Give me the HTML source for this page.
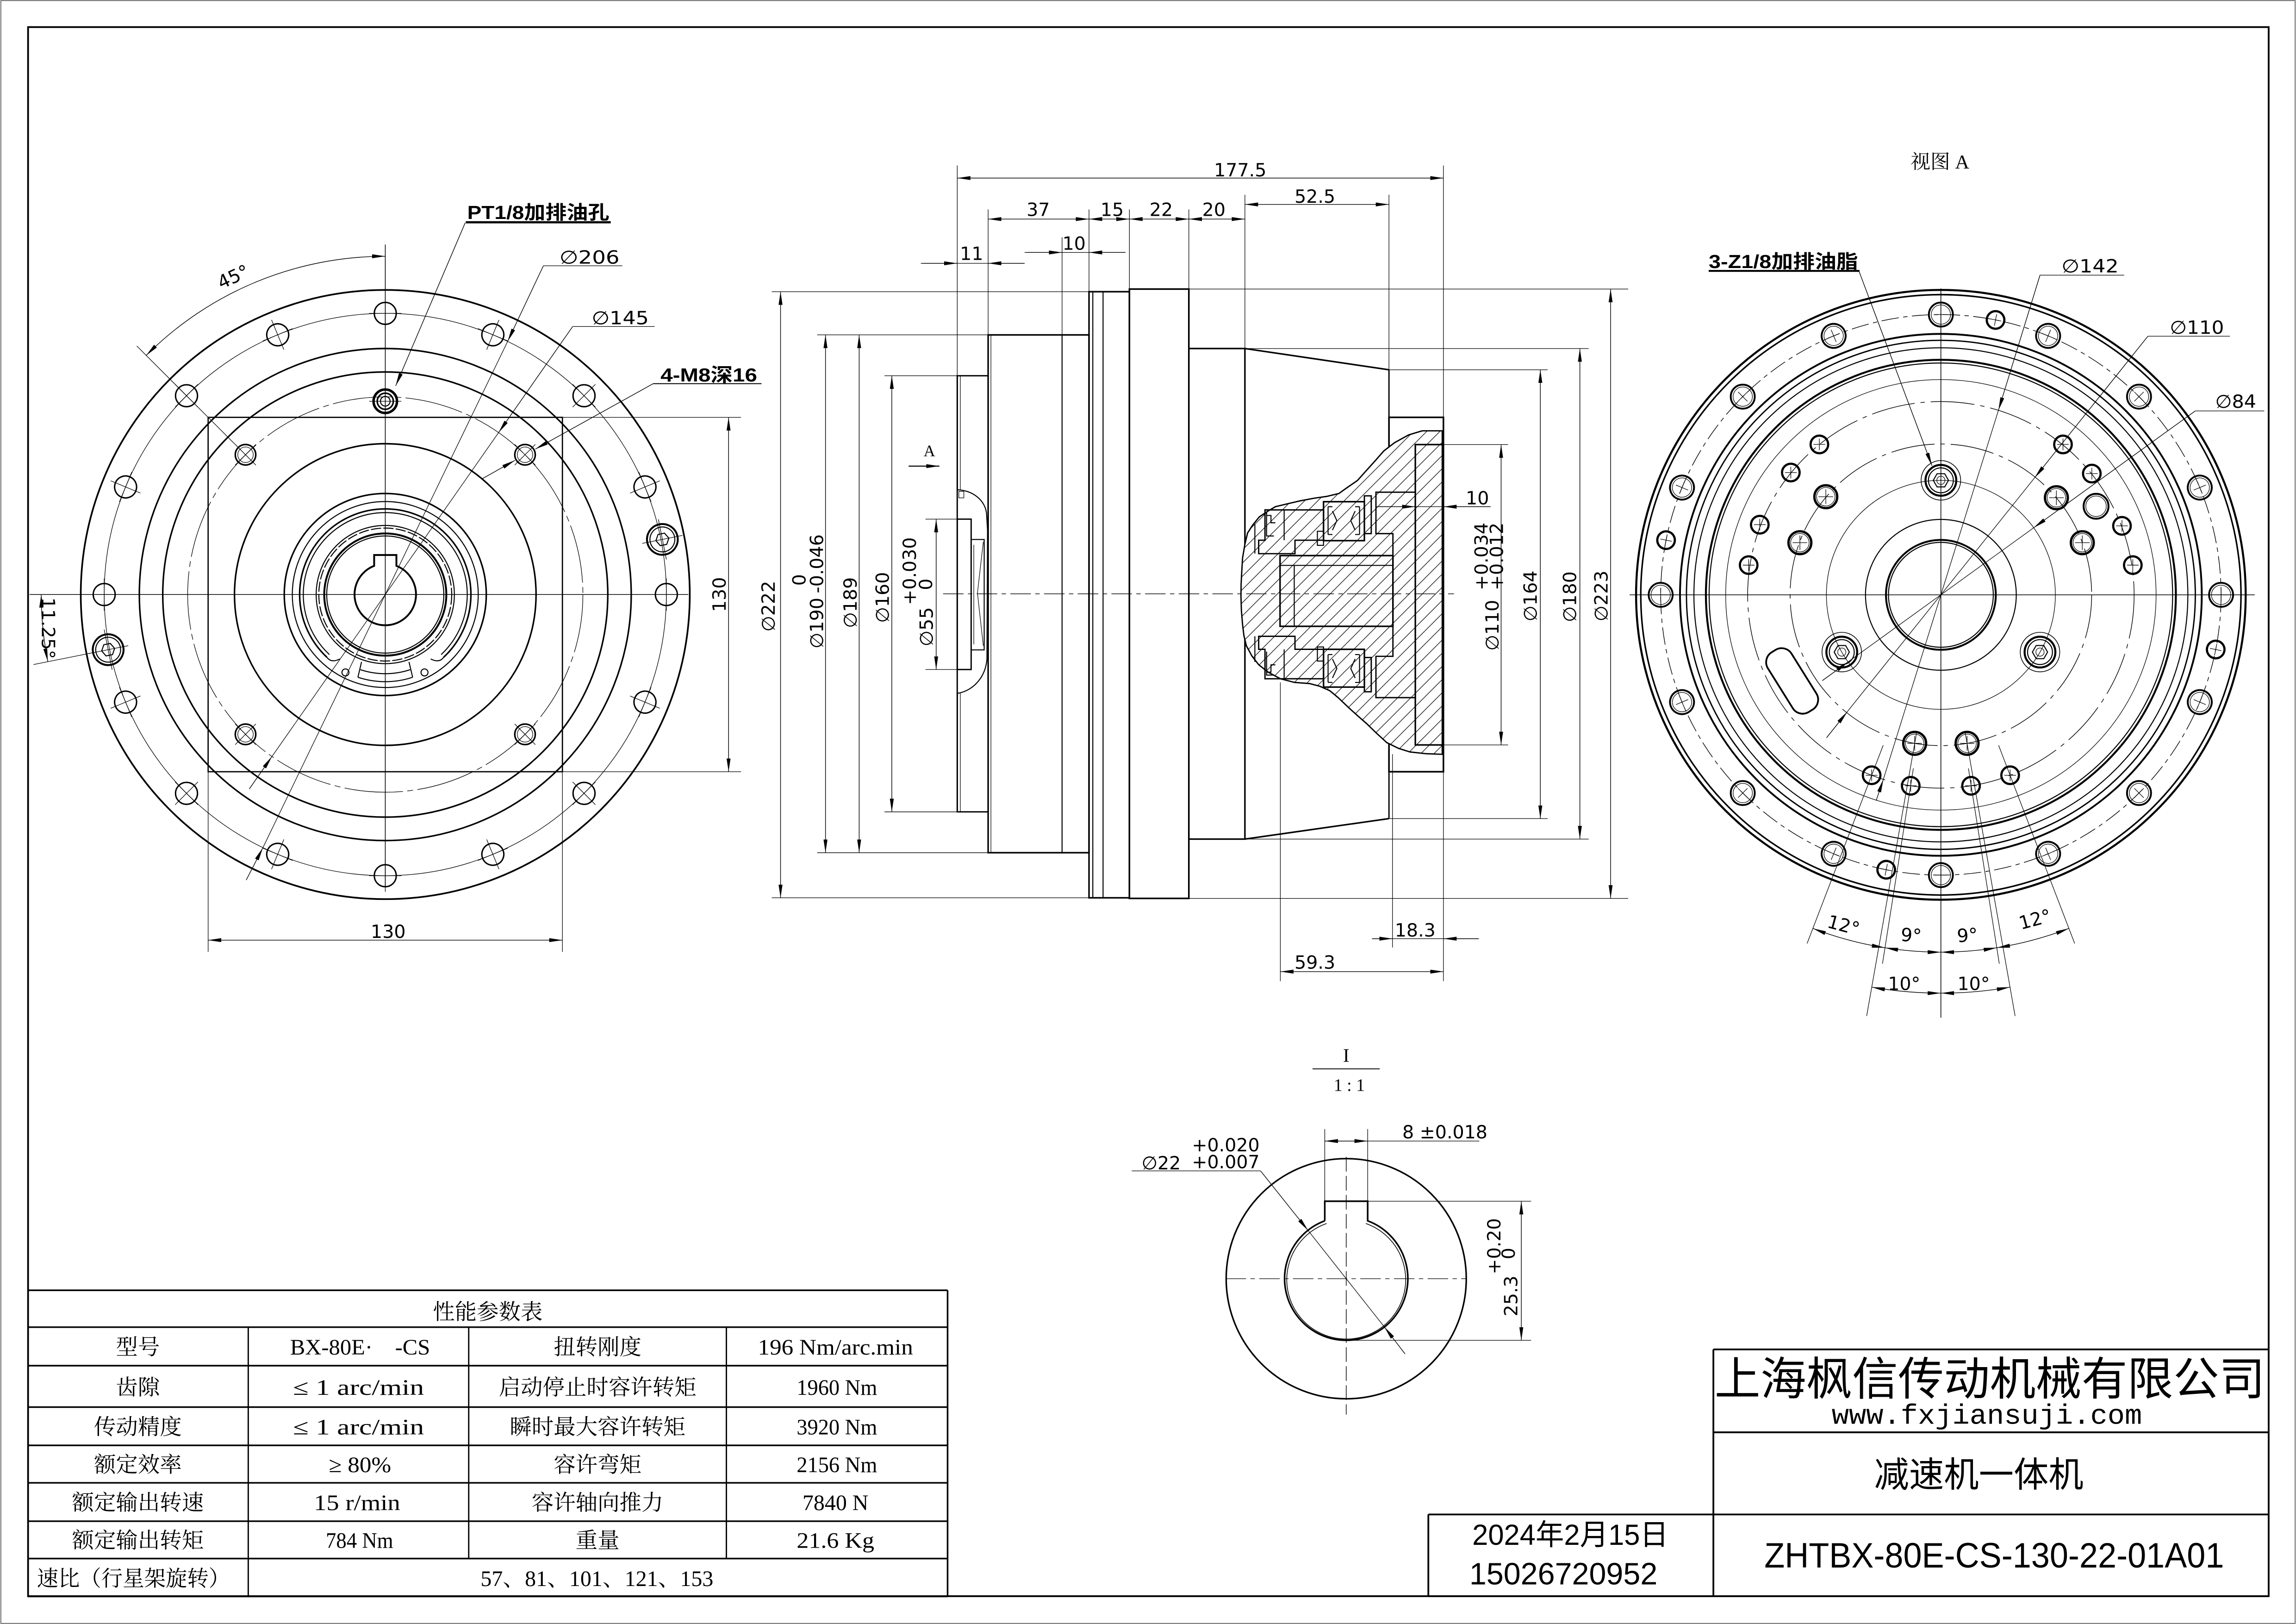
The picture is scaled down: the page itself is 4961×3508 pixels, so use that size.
<!DOCTYPE html>
<html><head><meta charset="utf-8">
<style>
html,body{margin:0;padding:0;background:#fff;}
svg{display:block;}
</style></head><body>
<svg width="4961" height="3508" viewBox="0 0 1568 1109" xmlns="http://www.w3.org/2000/svg">
<style>
.k{stroke:#000;stroke-width:1.05;fill:none}
.m{stroke:#000;stroke-width:0.7;fill:none}
.t{stroke:#000;stroke-width:0.4;fill:none}
.a{stroke:#000;stroke-width:0.45;fill:none;marker-end:url(#ar)}
.aa{stroke:#000;stroke-width:0.45;fill:none;marker-start:url(#ar);marker-end:url(#ar)}
.cl{stroke:#000;stroke-width:0.4;stroke-dasharray:14 3 3 3;fill:none}
.dsh{stroke:#000;stroke-width:0.45;stroke-dasharray:12 3 3 3;fill:none}
.w{fill:#fff}
text{fill:#000;font-family:"DejaVu Sans","Liberation Sans","Noto Sans CJK SC",sans-serif;}
.dt{font-size:12.5px}
.lb{font-family:"Liberation Sans","Noto Sans CJK SC",sans-serif;font-weight:bold;font-size:13px}
.sf{font-family:"Liberation Serif","Noto Serif CJK SC",serif;}
.tb{font-family:"Liberation Serif","Noto Serif CJK SC",serif;font-size:15px}
.hs{font-family:"Liberation Sans","Noto Sans CJK SC",sans-serif;}
</style>
<defs>
<marker id="ar" viewBox="0 0 10 3" refX="10" refY="1.5" markerWidth="9" markerHeight="2.8" markerUnits="userSpaceOnUse" orient="auto-start-reverse"><path d="M0,0 L10,1.5 L0,3 z" fill="#000"/></marker>
<pattern id="hp" patternUnits="userSpaceOnUse" width="9" height="9"><path d="M-1,1 L1,-1 M0,9 L9,0 M8,10 L10,8" stroke="#000" stroke-width="0.4"/></pattern>
<g id="hL"><circle r="7.5" class="k" style="stroke-width:0.95"/><path d="M-11,0H11M0,-11V11" class="t"/></g>
<g id="m8"><circle r="7" class="k" style="stroke-width:1.05"/><circle r="5.3" class="t"/><path d="M-10,0H10M0,-10V10" class="t"/></g>
<g id="sockL"><circle r="10.5" class="k" style="stroke-width:1.3"/><circle r="8.5" class="m"/><path d="M4.5,0L2.25,3.9L-2.25,3.9L-4.5,0L-2.25,-3.9L2.25,-3.9Z" class="m"/><path d="M-14,0H14M0,-14V14" class="t"/></g>
<g id="hR"><circle r="8.2" class="k" style="stroke-width:1.25"/><circle r="6.6" class="t"/><path d="M-4.5,0H4.5M0,-4.5V4.5" class="t"/></g>
<g id="sR"><circle r="6" class="k" style="stroke-width:1.5"/><path d="M-4,0H4M0,-4V4" class="t"/></g>
<g id="lR"><circle r="7.8" class="k" style="stroke-width:1.6"/><circle r="6.3" class="t"/><path d="M-5,0H5M0,-5V5" class="t"/></g>
<g id="kR"><circle r="13.5" class="t" style="stroke-width:0.5"/><circle r="10.5" class="k" style="stroke-width:1.4"/><circle r="8.5" class="m"/><path d="M5.2,0L2.6,4.5L-2.6,4.5L-5.2,0L-2.6,-4.5L2.6,-4.5Z" class="m"/><circle r="2.8" class="t"/></g>
</defs>

<rect x="0" y="0" width="1568" height="1109" fill="#fff"/>
<rect x="0.4" y="0.4" width="1567.2" height="1108.2" fill="none" stroke="#666" stroke-width="0.6"/>
<rect x="19" y="18.5" width="1530.5" height="1071.5" fill="none" stroke="#000" stroke-width="1.2"/>

<!-- ================= LEFT VIEW ================= -->
<g>
<circle cx="263" cy="406" r="208" class="k" style="stroke-width:1.15"/>
<circle cx="263" cy="406" r="192" class="t"/>
<circle cx="263" cy="406" r="168" class="k"/>
<circle cx="263" cy="406" r="152" class="k"/>
<circle cx="263" cy="406" r="135" class="t" style="stroke-dasharray:40 3 4 3"/>
<circle cx="263" cy="406" r="103" class="k"/>
<circle cx="263" cy="406" r="69" class="k"/>
<circle cx="263" cy="406" r="63.5" class="m"/>
<path d="M223.1,448.8 A58.5,58.5 0 1 1 302.9,448.8" class="k"/>
<path d="M224.8,447 A56,56 0 1 1 301.2,447" class="m"/>
<path d="M223.1,448.8 Q226,453 232,450 M302.9,448.8 Q300,453 294,450" class="m"/>
<circle cx="263" cy="406" r="47.2" class="m"/>
<circle cx="263" cy="406" r="45.4" class="m" style="stroke-dasharray:7 1.5"/>
<circle cx="263" cy="406" r="41.7" class="k" style="stroke-width:1.3"/>
<circle cx="263" cy="406" r="40" class="m"/>
<path d="M246.8,452 L244.3,462.5 M279.2,452 L281.7,462.5" class="m"/>
<path d="M244.3,462.5 A59.5,59.5 0 0 0 281.7,462.5" class="m"/>
<path d="M246,457.3 A54,54 0 0 0 280,457.3" class="m"/>
<circle cx="235.8" cy="459.2" r="2.4" class="m"/>
<circle cx="289.8" cy="459.2" r="2.4" class="m"/>
<path d="M255.4,386.4 L255.4,379 L270.6,379 L270.6,386.4 A21,21 0 1 1 255.4,386.4 Z" class="k" style="stroke-width:1.25"/>
<rect x="142" y="285" width="242" height="242" class="k" style="stroke-width:0.85"/>
<line x1="20" y1="406" x2="470" y2="406" class="t" style="stroke-width:0.5"/>
<line x1="263" y1="167" x2="263" y2="605" class="t" style="stroke-width:0.5"/>
<g transform="translate(263,406)">
<use href="#hL" transform="rotate(0) translate(192,0)"/>
<use href="#hL" transform="rotate(-22.5) translate(192,0)"/>
<use href="#hL" transform="rotate(-45) translate(192,0)"/>
<use href="#hL" transform="rotate(-67.5) translate(192,0)"/>
<use href="#hL" transform="rotate(-90) translate(192,0)"/>
<use href="#hL" transform="rotate(-112.5) translate(192,0)"/>
<use href="#hL" transform="rotate(-135) translate(192,0)"/>
<use href="#hL" transform="rotate(-157.5) translate(192,0)"/>
<use href="#hL" transform="rotate(-180) translate(192,0)"/>
<use href="#hL" transform="rotate(-202.5) translate(192,0)"/>
<use href="#hL" transform="rotate(-225) translate(192,0)"/>
<use href="#hL" transform="rotate(-247.5) translate(192,0)"/>
<use href="#hL" transform="rotate(-270) translate(192,0)"/>
<use href="#hL" transform="rotate(-292.5) translate(192,0)"/>
<use href="#hL" transform="rotate(-315) translate(192,0)"/>
<use href="#hL" transform="rotate(-337.5) translate(192,0)"/>
<use href="#sockL" transform="rotate(-11.25) translate(193,0)"/>
<use href="#sockL" transform="rotate(-191.25) translate(193,0)"/>
<use href="#m8" transform="rotate(-45) translate(135,0)"/>
<use href="#m8" transform="rotate(-135) translate(135,0)"/>
<use href="#m8" transform="rotate(-225) translate(135,0)"/>
<use href="#m8" transform="rotate(-315) translate(135,0)"/>
<g transform="translate(0,-132)"><circle r="8" class="k" style="stroke-width:1.7"/><circle r="5.5" class="k"/><circle r="3.3" class="m"/><path d="M-11,0H11" class="t"/></g>
</g>
<!-- dims left -->
<path d="M99.7,242.7 A231,231 0 0 1 263,175" class="aa"/>
<line x1="93.3" y1="236.3" x2="160.5" y2="303.5" class="t"/>
<text class="dt" transform="translate(161,193) rotate(-25)" text-anchor="middle">45°</text>
<path d="M28,406 A235,235 0 0 0 32.5,451.8" class="aa"/>
<line x1="22.7" y1="453.8" x2="61.9" y2="446" class="t"/>
<text class="dt" transform="translate(28.5,429) rotate(90)" text-anchor="middle">11.25°</text>
<text class="lb" x="319" y="149.5" textLength="97" lengthAdjust="spacingAndGlyphs">PT1/8加排油孔</text>
<line x1="318" y1="151.8" x2="417" y2="151.8" stroke="#000" stroke-width="1.5"/>
<line x1="317.6" y1="152.1" x2="270.1" y2="263.5" class="a"/>
<text class="dt" x="382" y="180" textLength="41" lengthAdjust="spacingAndGlyphs">∅206</text>
<line x1="371" y1="181.5" x2="425" y2="181.5" class="t"/>
<line x1="371" y1="181.5" x2="346.6" y2="233.1" class="a"/>
<line x1="346.6" y1="233.1" x2="179.4" y2="578.9" class="t"/>
<line x1="168" y1="601" x2="179.4" y2="578.9" class="a"/>
<text class="dt" x="404" y="221.5" textLength="39" lengthAdjust="spacingAndGlyphs">∅145</text>
<line x1="391" y1="223" x2="447" y2="223" class="t"/>
<line x1="391" y1="223" x2="340.4" y2="295.4" class="a"/>
<line x1="340.4" y1="295.4" x2="185.6" y2="516.6" class="t"/>
<line x1="170.1" y1="538.8" x2="185.6" y2="516.6" class="a"/>
<text class="lb" x="451" y="260.5" textLength="66" lengthAdjust="spacingAndGlyphs">4-M8深16</text>
<line x1="446" y1="262" x2="520" y2="262" class="t" style="stroke-width:0.6"/>
<line x1="446" y1="262" x2="365.5" y2="306.7" class="a"/>
<line x1="329.3" y1="326.9" x2="351.5" y2="314.4" class="a"/>
<line x1="384" y1="285" x2="506" y2="285" class="t"/>
<line x1="384" y1="527" x2="506" y2="527" class="t"/>
<line x1="497.5" y1="285" x2="497.5" y2="527" class="aa"/>
<text class="dt" transform="translate(495.5,406) rotate(-90)" text-anchor="middle">130</text>
<line x1="142" y1="527" x2="142" y2="650" class="t"/>
<line x1="384" y1="527" x2="384" y2="650" class="t"/>
<line x1="142" y1="642" x2="384" y2="642" class="aa"/>
<text class="dt" x="265" y="640.5" text-anchor="middle">130</text>
</g>

<!-- ================= MIDDLE VIEW ================= -->
<g>
<rect x="653.7" y="256.6" width="21.1" height="297.8" class="k" style="stroke-width:0.9"/>
<line x1="655.8" y1="256.6" x2="655.8" y2="554.4" class="t"/>
<rect x="674.8" y="228.7" width="68.9" height="353.6" class="k"/>
<line x1="676.7" y1="228.7" x2="676.7" y2="582.3" class="t"/>
<line x1="725.3" y1="228.7" x2="725.3" y2="582.3" class="m"/>
<rect x="743.7" y="199.2" width="27.6" height="413.9" class="k"/>
<line x1="746.3" y1="199.2" x2="746.3" y2="613.1" class="m"/>
<line x1="753.3" y1="199.2" x2="753.3" y2="613.1" class="m"/>
<rect x="771.3" y="197.4" width="40.6" height="416.1" class="k" style="stroke-width:1.1"/>
<rect x="811.9" y="238" width="38.3" height="335" class="k"/>
<path d="M850.2,238 L948.6,252.5 M850.2,573 L948.6,559" class="k"/>
<line x1="948.6" y1="252.5" x2="948.6" y2="559" class="k" style="stroke-width:0.9"/>
<rect x="948.6" y="285" width="37.2" height="242" class="k" style="stroke-width:1.1"/>
<!-- left boss section -->
<path d="M653.7,334.5 C663,334.5 673.5,341 673.8,352 L674.4,362 L674,450 C673,463 664,472 653.7,473.5 Z" fill="#fff"/>
<path d="M653.7,334.5 C663,334.5 673.5,341 673.8,352 L674.4,362 L674,450 C673,463 664,472 653.7,473.5 Z" fill="url(#hp)" class="m"/>
<rect x="653.7" y="354.5" width="9.5" height="102.7" fill="#fff" class="k" style="stroke-width:0.9"/>
<rect x="663.2" y="368.4" width="8.9" height="75.4" fill="#fff" class="m"/>
<path d="M671.5,370 L667.5,405 L671.5,441 M665,372 V440" class="t"/>
<rect x="654.8" y="335.6" width="3.4" height="4.4" class="t"/>
<line x1="653.7" y1="256.6" x2="653.7" y2="554.4" class="k" style="stroke-width:0.9"/>
<!-- right section -->
<path d="M985,294.2 L971.3,294.2 L962,297 L952.4,302.3 L945,308 L938.7,315.2 L933,321.5 L927.1,328.1 L920,333 L914.4,337 L906,339 L897.6,340.2 L888,342 L878.6,344.2 L871,346 L866,349 L860,353 L855.4,358.7 L852,364 L850.2,371.6 L848.6,381 L848,391 L847.6,399 L847.5,407.1 L847.8,417 L848.6,426.5 L849.5,434 L851.2,441 L855,448 L859.6,453.9 L866,459 L874.4,463.5 L884,466 L894.4,466.8 L901,468.5 L908.1,471.6 L914,476.5 L920.7,482.9 L927,488.6 L933.4,494.2 L940,500.6 L947.1,507.1 L955,511 L962.9,513.5 L974,514.7 L985,515.1 Z" fill="#fff"/>
<path d="M985,294.2 L971.3,294.2 L962,297 L952.4,302.3 L945,308 L938.7,315.2 L933,321.5 L927.1,328.1 L920,333 L914.4,337 L906,339 L897.6,340.2 L888,342 L878.6,344.2 L871,346 L866,349 L860,353 L855.4,358.7 L852,364 L850.2,371.6 L848.6,381 L848,391 L847.6,399 L847.5,407.1 L847.8,417 L848.6,426.5 L849.5,434 L851.2,441 L855,448 L859.6,453.9 L866,459 L874.4,463.5 L884,466 L894.4,466.8 L901,468.5 L908.1,471.6 L914,476.5 L920.7,482.9 L927,488.6 L933.4,494.2 L940,500.6 L947.1,507.1 L955,511 L962.9,513.5 L974,514.7 L985,515.1 Z" fill="url(#hp)" stroke="#000" stroke-width="0.9" stroke-linejoin="round"/>
<rect x="966.6" y="303.6" width="18.6" height="205.1" fill="#fff" class="k"/>
<path d="M939.7,336.1 H966.6 V476.4 H939.7 V448.2 H951.3 V364.4 H939.7 Z" fill="#fff" class="k" style="stroke-width:0.9"/>
<rect x="874.2" y="379.4" width="77.1" height="48.3" fill="#fff" class="k"/>
<line x1="874.2" y1="386.1" x2="951.3" y2="386.1" class="m"/>
<line x1="883.9" y1="386.1" x2="883.9" y2="427.7" class="m"/>
<rect x="903.9" y="342.6" width="27.9" height="26.6" fill="#fff" class="k"/>
<rect x="903.9" y="443.4" width="27.9" height="25.8" fill="#fff" class="k"/>
<path d="M907,346 V365 M907,346 H910 M907,365 H910 M910,349 L913,355.5 L910,362 M928.5,346 V365 M928.5,346 H925.5 M928.5,365 H925.5 M925.5,349 L922.5,355.5 L925.5,362" class="m"/>
<path d="M907,447 V466 M907,447 H910 M907,466 H910 M910,450 L913,456.5 L910,463 M928.5,447 V466 M928.5,447 H925.5 M928.5,466 H925.5 M925.5,450 L922.5,456.5 L925.5,463" class="m"/>
<rect x="931.8" y="338.6" width="4.7" height="25.8" fill="#fff" class="k" style="stroke-width:0.9"/>
<rect x="931.8" y="449" width="4.7" height="23.4" fill="#fff" class="k" style="stroke-width:0.9"/>
<rect x="899.7" y="362.8" width="4.2" height="9.6" fill="#fff" class="m"/>
<rect x="899.7" y="441.8" width="4.2" height="9.6" fill="#fff" class="m"/>
<path d="M863.9,348.2 H903.9 V368.9 H884.4 V378.1 H859.6 V368.9 H863.9 Z" fill="#fff" class="k" style="stroke-width:0.9"/>
<path d="M859.6,434.5 H884.4 V443.4 H903.9 V463.5 H863.9 V443.4 H859.6 Z" fill="#fff" class="k" style="stroke-width:0.9"/>
<path d="M865,350 V366 H870 M865,352 H868 V357 H871 M865,445 V461 H870 M865,459 H868 V454 H871 M877,348.2 V368.9 M877,443.4 V463.5 M857,358 V378 M857,434.5 V452" class="m"/>
<line x1="644" y1="405.5" x2="993" y2="405.5" class="cl"/>
<!-- ext lines -->
<path d="M653.7,113 V256.6 M674.8,143 V228.7 M725.3,162 V228.7 M743.7,143 V199.2 M771.3,143 V197.4 M811.9,143 V197.4 M850.2,133 V238 M948.6,133 V252.5 M985.8,113 V670" class="t"/>
<path d="M527,199.2 H743.7 M527,613.1 H743.7 M558,228.7 H674.8 M558,582.3 H674.8 M604,256.6 H653.7 M604,554.4 H653.7 M632,354.5 H653.7 M632,457.2 H653.7" class="t"/>
<path d="M985.8,303.6 H1030 M985.8,508.7 H1030 M948.6,252.5 H1057 M948.6,559 H1057 M850.2,238 H1085 M850.2,573 H1085 M811.9,197.4 H1112 M811.9,613.5 H1112" class="t"/>
<path d="M874.4,466 V670 M951,515 V647" class="t"/>
<!-- dim lines -->
<line x1="533" y1="199.2" x2="533" y2="613.1" class="aa"/>
<line x1="563.7" y1="228.7" x2="563.7" y2="582.3" class="aa"/>
<line x1="586.7" y1="228.7" x2="586.7" y2="582.3" class="aa"/>
<line x1="609" y1="256.6" x2="609" y2="554.4" class="aa"/>
<line x1="639.3" y1="354.5" x2="639.3" y2="457.2" class="aa"/>
<line x1="1025.2" y1="303.6" x2="1025.2" y2="508.7" class="aa"/>
<line x1="1052" y1="252.5" x2="1052" y2="559" class="aa"/>
<line x1="1079" y1="238" x2="1079" y2="573" class="aa"/>
<line x1="1100" y1="197.4" x2="1100" y2="613.5" class="aa"/>
<line x1="653.7" y1="121.6" x2="985.8" y2="121.6" class="aa"/>
<line x1="674.8" y1="149.6" x2="743.7" y2="149.6" class="aa"/>
<line x1="743.7" y1="149.6" x2="771.3" y2="149.6" class="aa"/>
<line x1="771.3" y1="149.6" x2="811.9" y2="149.6" class="aa"/>
<line x1="811.9" y1="149.6" x2="850.2" y2="149.6" class="aa"/>
<line x1="850.2" y1="139.6" x2="948.6" y2="139.6" class="aa"/>
<line x1="874.4" y1="663.5" x2="985.8" y2="663.5" class="aa"/>
<line x1="628.8" y1="179.8" x2="699.7" y2="179.8" class="t"/>
<line x1="630" y1="179.8" x2="653.7" y2="179.8" class="a"/>
<line x1="699.7" y1="179.8" x2="674.8" y2="179.8" class="a"/>
<line x1="699.7" y1="172.4" x2="768.6" y2="172.4" class="t"/>
<line x1="701" y1="172.4" x2="725.3" y2="172.4" class="a"/>
<line x1="768.6" y1="172.4" x2="743.7" y2="172.4" class="a"/>
<line x1="940" y1="346" x2="1018" y2="346" class="t"/>
<line x1="942" y1="346" x2="966.6" y2="346" class="a"/>
<line x1="1018" y1="346" x2="985.8" y2="346" class="a"/>
<line x1="937" y1="641" x2="1010" y2="641" class="t"/>
<line x1="937" y1="641" x2="951" y2="641" class="a"/>
<line x1="1010" y1="641" x2="985.8" y2="641" class="a"/>
<line x1="620.5" y1="318.3" x2="641.5" y2="318.3" class="a" style="stroke-width:0.7"/>
<text class="sf" x="634.7" y="311.5" text-anchor="middle" font-size="11">A</text>
<!-- dim texts -->
<text class="dt" x="847" y="120.5" text-anchor="middle">177.5</text>
<text class="dt" x="709" y="147.5" text-anchor="middle">37</text>
<text class="dt" x="759.5" y="147.5" text-anchor="middle">15</text>
<text class="dt" x="793" y="147.5" text-anchor="middle">22</text>
<text class="dt" x="829" y="147.5" text-anchor="middle">20</text>
<text class="dt" x="898" y="138.5" text-anchor="middle">52.5</text>
<text class="dt" x="663.5" y="177.5" text-anchor="middle">11</text>
<text class="dt" x="733.5" y="170.5" text-anchor="middle">10</text>
<text class="dt" x="1009" y="344.5" text-anchor="middle">10</text>
<text class="dt" x="966.5" y="639.5" text-anchor="middle">18.3</text>
<text class="dt" x="898" y="661.5" text-anchor="middle">59.3</text>
<text class="dt" transform="translate(529,414) rotate(-90)" text-anchor="middle">∅222</text>
<text class="dt" transform="translate(562,425.5) rotate(-90)" text-anchor="middle">∅190</text>
<text class="dt" transform="translate(562,385) rotate(-90)" text-anchor="middle" font-size="9.5">-0.046</text>
<text class="dt" transform="translate(550,396) rotate(-90)" text-anchor="middle" font-size="9.5">0</text>
<text class="dt" transform="translate(585,411.5) rotate(-90)" text-anchor="middle">∅189</text>
<text class="dt" transform="translate(607,408) rotate(-90)" text-anchor="middle">∅160</text>
<text class="dt" transform="translate(637,428) rotate(-90)" text-anchor="middle">∅55</text>
<text class="dt" transform="translate(625.5,390) rotate(-90)" text-anchor="middle" font-size="9.5">+0.030</text>
<text class="dt" transform="translate(636.5,399) rotate(-90)" text-anchor="middle" font-size="9.5">0</text>
<text class="dt" transform="translate(1023.5,427) rotate(-90)" text-anchor="middle">∅110</text>
<text class="dt" transform="translate(1016,380) rotate(-90)" text-anchor="middle" font-size="9.5">+0.034</text>
<text class="dt" transform="translate(1026.5,380) rotate(-90)" text-anchor="middle" font-size="9.5">+0.012</text>
<text class="dt" transform="translate(1049.5,407) rotate(-90)" text-anchor="middle">∅164</text>
<text class="dt" transform="translate(1076.5,407.5) rotate(-90)" text-anchor="middle">∅180</text>
<text class="dt" transform="translate(1098,407) rotate(-90)" text-anchor="middle">∅223</text>
</g>

<!-- ================= RIGHT VIEW ================= -->
<g>
<circle cx="1325.6" cy="406.2" r="208.2" class="k" style="stroke-width:1.4"/>
<circle cx="1325.6" cy="406.2" r="205" class="k"/>
<circle cx="1325.6" cy="406.2" r="191.4" class="dsh"/>
<circle cx="1325.6" cy="406.2" r="178.2" class="k" style="stroke-width:1.25"/>
<circle cx="1325.6" cy="406.2" r="173.8" class="k" style="stroke-width:0.9"/>
<circle cx="1325.6" cy="406.2" r="168.7" class="m"/>
<circle cx="1325.6" cy="406.2" r="160.5" class="k" style="stroke-width:1.35"/>
<circle cx="1325.6" cy="406.2" r="158.3" class="m"/>
<circle cx="1325.6" cy="406.2" r="147" class="t"/>
<circle cx="1325.6" cy="406.2" r="132" class="dsh" style="stroke-dasharray:30 4 3 4"/>
<circle cx="1325.6" cy="406.2" r="103" class="dsh" style="stroke-dasharray:30 4 3 4"/>
<circle cx="1325.6" cy="406.2" r="78.2" class="t"/>
<circle cx="1325.6" cy="406.2" r="51.5" class="m"/>
<circle cx="1325.6" cy="406.2" r="37.5" class="k" style="stroke-width:1.3"/>
<circle cx="1325.6" cy="406.2" r="35.8" class="m"/>
<line x1="1113" y1="406.2" x2="1540" y2="406.2" class="t" style="stroke-width:0.5"/>
<line x1="1325.6" y1="197" x2="1325.6" y2="695" class="t" style="stroke-width:0.5"/>
<g transform="translate(1325.6,406.2)">
<use href="#hR" transform="rotate(0) translate(191.4,0)"/>
<use href="#hR" transform="rotate(-22.5) translate(191.4,0)"/>
<use href="#hR" transform="rotate(-45) translate(191.4,0)"/>
<use href="#hR" transform="rotate(-67.5) translate(191.4,0)"/>
<use href="#hR" transform="rotate(-90) translate(191.4,0)"/>
<use href="#hR" transform="rotate(-112.5) translate(191.4,0)"/>
<use href="#hR" transform="rotate(-135) translate(191.4,0)"/>
<use href="#hR" transform="rotate(-157.5) translate(191.4,0)"/>
<use href="#hR" transform="rotate(-180) translate(191.4,0)"/>
<use href="#hR" transform="rotate(-202.5) translate(191.4,0)"/>
<use href="#hR" transform="rotate(-225) translate(191.4,0)"/>
<use href="#hR" transform="rotate(-247.5) translate(191.4,0)"/>
<use href="#hR" transform="rotate(-270) translate(191.4,0)"/>
<use href="#hR" transform="rotate(-292.5) translate(191.4,0)"/>
<use href="#hR" transform="rotate(-315) translate(191.4,0)"/>
<use href="#hR" transform="rotate(-337.5) translate(191.4,0)"/>
<use href="#sR" transform="rotate(-78.75) translate(191.4,0)"/>
<use href="#sR" transform="rotate(-168.75) translate(191.4,0)"/>
<use href="#sR" transform="rotate(11.25) translate(191.4,0)"/>
<use href="#sR" transform="rotate(-258.75) translate(191.4,0)"/>
</g>
<use href="#sR" x="1242.6" y="303.5"/>
<use href="#sR" x="1223.1" y="322.7"/>
<use href="#lR" x="1247" y="339.2"/>
<use href="#sR" x="1201.9" y="358.3"/>
<use href="#lR" x="1229.3" y="370.6"/>
<use href="#sR" x="1194.3" y="385.9"/>
<use href="#sR" x="1409" y="303.5"/>
<use href="#sR" x="1428.7" y="323.4"/>
<use href="#lR" x="1404.5" y="339.9"/>
<circle cx="1431.6" cy="345.7" r="8.5" class="k" style="stroke-width:1.3"/>
<circle cx="1431.6" cy="345.7" r="7" class="t"/>
<use href="#sR" x="1449.3" y="359.1"/>
<use href="#lR" x="1422.2" y="370.6"/>
<use href="#sR" x="1456.7" y="385.9"/>
<use href="#lR" x="1307.7" y="507.6"/>
<use href="#lR" x="1343.5" y="507.6"/>
<use href="#sR" x="1278.3" y="529.4"/>
<use href="#sR" x="1305" y="536.6"/>
<use href="#sR" x="1346.2" y="536.6"/>
<use href="#sR" x="1372.9" y="529.4"/>
<use href="#kR" x="1325.6" y="328"/>
<use href="#kR" x="1257.9" y="445.3"/>
<use href="#kR" x="1393.3" y="445.3"/>
<rect x="1200" y="455.5" width="48" height="19" rx="8" ry="8" class="k" style="stroke-width:1.2" transform="rotate(58 1224 465)"/>
<!-- angle dims -->
<path d="M1286.2,508.9 L1234.2,644.3 M1365,508.9 L1417,644.3 M1306.8,524.7 L1285.7,658.1 M1344.4,524.7 L1365.5,658.1 M1309.1,499.8 L1274.9,693.8 M1342.1,499.8 L1376.3,693.8" class="t"/>
<path d="M1238.2,634 A244,244 0 0 0 1287.4,647.2" class="aa"/>
<path d="M1287.4,647.2 A244,244 0 0 0 1325.6,650.2" class="aa"/>
<path d="M1325.6,650.2 A244,244 0 0 0 1363.8,647.2" class="aa"/>
<path d="M1363.8,647.2 A244,244 0 0 0 1413,634" class="aa"/>
<path d="M1278.4,674.1 A272,272 0 0 0 1325.6,678.2" class="aa"/>
<path d="M1325.6,678.2 A272,272 0 0 0 1372.8,674.1" class="aa"/>
<text class="dt" transform="translate(1258,636) rotate(15)" text-anchor="middle">12°</text>
<text class="dt" transform="translate(1305,643) rotate(4)" text-anchor="middle">9°</text>
<text class="dt" transform="translate(1344,643) rotate(-4)" text-anchor="middle">9°</text>
<text class="dt" transform="translate(1391,632) rotate(-15)" text-anchor="middle">12°</text>
<text class="dt" x="1300.5" y="676" text-anchor="middle">10°</text>
<text class="dt" x="1348" y="676" text-anchor="middle">10°</text>
<!-- labels -->
<text class="sf" x="1325" y="115" text-anchor="middle" font-size="13.5">视图 A</text>
<text class="lb" x="1167" y="183" textLength="102" lengthAdjust="spacingAndGlyphs">3-Z1/8加排油脂</text>
<line x1="1167" y1="185" x2="1270" y2="185" stroke="#000" stroke-width="1.3"/>
<line x1="1269.6" y1="185" x2="1319.5" y2="318" class="a"/>
<text class="dt" x="1408" y="186" textLength="39" lengthAdjust="spacingAndGlyphs">∅142</text>
<line x1="1393.3" y1="187.9" x2="1450.8" y2="187.9" class="t"/>
<line x1="1393.3" y1="187.9" x2="1364.9" y2="280.2" class="a"/>
<line x1="1364.9" y1="280.2" x2="1286.3" y2="532.2" class="t"/>
<line x1="1281.4" y1="546.7" x2="1286.3" y2="532.2" class="a"/>
<text class="dt" x="1482" y="228" textLength="37" lengthAdjust="spacingAndGlyphs">∅110</text>
<line x1="1467" y1="229.6" x2="1523" y2="229.6" class="t"/>
<line x1="1467" y1="229.6" x2="1389.6" y2="326.3" class="a"/>
<line x1="1389.6" y1="326.3" x2="1261.6" y2="486.1" class="t"/>
<line x1="1247.5" y1="503.8" x2="1261.6" y2="486.1" class="a"/>
<text class="dt" x="1513" y="278.5" textLength="28" lengthAdjust="spacingAndGlyphs">∅84</text>
<line x1="1499.4" y1="280.6" x2="1546.5" y2="280.6" class="t"/>
<line x1="1499.4" y1="280.6" x2="1389" y2="360.4" class="a"/>
<line x1="1389" y1="360.4" x2="1262.2" y2="452" class="t"/>
<line x1="1244.6" y1="464.8" x2="1262.2" y2="452" class="a"/>
</g>

<!-- ================= DETAIL I ================= -->
<g>
<text class="sf" x="919.4" y="725" text-anchor="middle" font-size="13">I</text>
<line x1="896.4" y1="729.9" x2="942.3" y2="729.9" class="t" style="stroke-width:0.6"/>
<text class="sf" x="921.5" y="745" text-anchor="middle" font-size="12">1 : 1</text>
<circle cx="919.4" cy="873.2" r="82" class="k"/>
<path d="M904.75,833.7 L904.75,820.3 L934.05,820.3 L934.05,833.7 A42.1,42.1 0 1 1 904.75,833.7" class="k" style="stroke-width:1.1"/>
<path d="M906,835.5 A40.6,40.6 0 1 0 932.8,835.5" class="t" style="stroke-width:0.5"/>
<line x1="837" y1="873.2" x2="1001.3" y2="873.2" class="cl"/>
<line x1="919.4" y1="790" x2="919.4" y2="966" class="dsh" style="stroke-dasharray:10 3"/>
<line x1="772.9" y1="799.6" x2="860.9" y2="799.6" class="t"/>
<line x1="860.9" y1="799.6" x2="893.3" y2="840.2" class="a"/>
<line x1="893.3" y1="840.2" x2="945.5" y2="906.2" class="t"/>
<line x1="959.6" y1="924.6" x2="945.5" y2="906.2" class="a"/>
<text class="dt" x="779.6" y="798.5" font-size="13">∅22</text>
<text class="dt" x="814" y="786.3" font-size="9">+0.020</text>
<text class="dt" x="814" y="797.8" font-size="9">+0.007</text>
<line x1="904.75" y1="771" x2="904.75" y2="820.3" class="t"/>
<line x1="934.05" y1="771" x2="934.05" y2="820.3" class="t"/>
<line x1="919.4" y1="779.2" x2="904.75" y2="779.2" class="a"/>
<line x1="919.4" y1="779.2" x2="934.05" y2="779.2" class="a"/>
<line x1="934.05" y1="779.2" x2="1010.3" y2="779.2" class="t"/>
<text class="dt" x="957.7" y="777.3" font-size="11">8 ±0.018</text>
<line x1="934.05" y1="820.3" x2="1045.7" y2="820.3" class="t"/>
<line x1="925" y1="915.3" x2="1045.7" y2="915.3" class="t"/>
<line x1="1039" y1="820.3" x2="1039" y2="915.3" class="aa"/>
<text class="dt" transform="translate(1036.3,885) rotate(-90)" text-anchor="middle" font-size="12.5">25.3</text>
<text class="dt" transform="translate(1024.7,851) rotate(-90)" text-anchor="middle" font-size="9.5">+0.20</text>
<text class="dt" transform="translate(1034.5,856) rotate(-90)" text-anchor="middle" font-size="9.5">0</text>
</g>

<!-- ================= TABLE ================= -->
<g>
<path d="M18.75,881.1 H647.1 M18.75,906.3 H647.1 M18.75,932.6 H647.1 M18.75,960.9 H647.1 M18.75,987 H647.1 M18.75,1012.6 H647.1 M18.75,1038.8 H647.1 M18.75,1064.3 H647.1 M18.75,1090.2 H647.1" stroke="#000" stroke-width="1.1" fill="none"/>
<path d="M647.1,881.1 V1090.2" stroke="#000" stroke-width="1.1" fill="none"/>
<path d="M169.4,906.3 V1090.2 M320,906.3 V1064.3 M496,906.3 V1064.3" stroke="#000" stroke-width="0.9" fill="none"/>
<text class="tb" x="333" y="901" text-anchor="middle">性能参数表</text>
<text class="tb" x="94" y="925" text-anchor="middle">型号</text>
<text class="tb" x="94" y="952.5" text-anchor="middle">齿隙</text>
<text class="tb" x="94" y="979.5" text-anchor="middle">传动精度</text>
<text class="tb" x="94" y="1005.3" text-anchor="middle">额定效率</text>
<text class="tb" x="94" y="1031.2" text-anchor="middle">额定输出转速</text>
<text class="tb" x="94" y="1057" text-anchor="middle">额定输出转矩</text>
<text class="tb" x="91" y="1083" text-anchor="middle" textLength="132" lengthAdjust="spacingAndGlyphs">速比（行星架旋转）</text>
<text class="tb" x="408" y="925" text-anchor="middle">扭转刚度</text>
<text class="tb" x="408" y="952.5" text-anchor="middle">启动停止时容许转矩</text>
<text class="tb" x="408" y="979.5" text-anchor="middle">瞬时最大容许转矩</text>
<text class="tb" x="408" y="1005.3" text-anchor="middle">容许弯矩</text>
<text class="tb" x="408" y="1031.2" text-anchor="middle">容许轴向推力</text>
<text class="tb" x="408" y="1057" text-anchor="middle">重量</text>
<text class="tb" x="245.8" y="925" text-anchor="middle" textLength="95.6" lengthAdjust="spacingAndGlyphs">BX-80E·&#160;&#160;&#160;&#160;-CS</text>
<text class="tb" x="244.7" y="952.5" text-anchor="middle" textLength="89.5" lengthAdjust="spacingAndGlyphs">≤ 1 arc/min</text>
<text class="tb" x="244.7" y="979.5" text-anchor="middle" textLength="89.5" lengthAdjust="spacingAndGlyphs">≤ 1 arc/min</text>
<text class="tb" x="245.7" y="1005.3" text-anchor="middle" textLength="42.6" lengthAdjust="spacingAndGlyphs">≥ 80%</text>
<text class="tb" x="243.7" y="1031.2" text-anchor="middle" textLength="59" lengthAdjust="spacingAndGlyphs">15 r/min</text>
<text class="tb" x="245.4" y="1057" text-anchor="middle" textLength="46" lengthAdjust="spacingAndGlyphs">784 Nm</text>
<text class="tb" x="570.5" y="925" text-anchor="middle" textLength="106" lengthAdjust="spacingAndGlyphs">196 Nm/arc.min</text>
<text class="tb" x="571.5" y="952.5" text-anchor="middle" textLength="55" lengthAdjust="spacingAndGlyphs">1960 Nm</text>
<text class="tb" x="571.5" y="979.5" text-anchor="middle" textLength="55" lengthAdjust="spacingAndGlyphs">3920 Nm</text>
<text class="tb" x="571.5" y="1005.3" text-anchor="middle" textLength="55" lengthAdjust="spacingAndGlyphs">2156 Nm</text>
<text class="tb" x="570.5" y="1031.2" text-anchor="middle" textLength="45" lengthAdjust="spacingAndGlyphs">7840 N</text>
<text class="tb" x="570.5" y="1057" text-anchor="middle" textLength="53" lengthAdjust="spacingAndGlyphs">21.6 Kg</text>
<text class="tb" x="407.6" y="1083" text-anchor="middle" textLength="159" lengthAdjust="spacingAndGlyphs">57、81、101、121、153</text>
</g>

<!-- ================= TITLE BLOCK ================= -->
<g>
<path d="M1170.2,921.5 H1549.6 M1170.2,978.1 H1549.6 M975.5,1034.2 H1549.6 M975.5,1090 H1549.6 M1170.2,921.5 V1090 M975.5,1034.2 V1090" stroke="#000" stroke-width="1.2" fill="none"/>
<text class="hs" x="1171" y="952.5" font-size="31" textLength="376" lengthAdjust="spacingAndGlyphs">上海枫信传动机械有限公司</text>
<text x="1251" y="972.3" font-size="19" style="font-family:'Liberation Mono',monospace" textLength="212" lengthAdjust="spacingAndGlyphs">www.fxjiansuji.com</text>
<text class="hs" x="1351.5" y="1015.5" font-size="24" text-anchor="middle" textLength="143" lengthAdjust="spacingAndGlyphs">减速机一体机</text>
<text class="hs" x="1205" y="1070.4" font-size="24" textLength="314" lengthAdjust="spacingAndGlyphs">ZHTBX-80E-CS-130-22-01A01</text>
<text class="hs" x="1005.5" y="1055" font-size="20" textLength="134" lengthAdjust="spacingAndGlyphs">2024年2月15日</text>
<text class="hs" x="1003.5" y="1082" font-size="21" textLength="128.5" lengthAdjust="spacingAndGlyphs">15026720952</text>
</g>
</svg>
</body></html>
